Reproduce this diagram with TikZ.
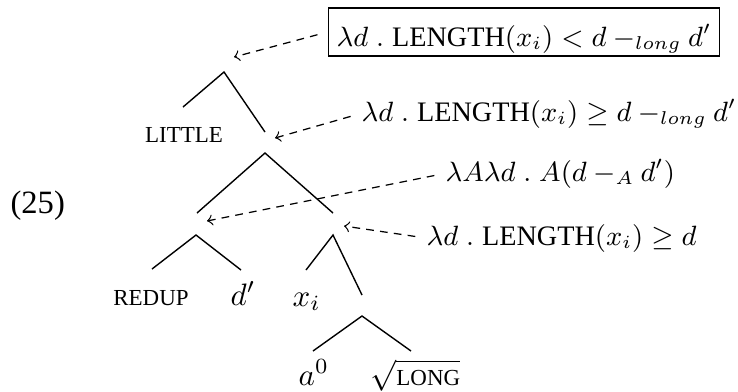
\documentclass[tikz,border=0pt]{standalone}
\usepackage{amsmath}
\usepackage{amssymb}
\usepackage{fontspec}
\setmainfont{Liberation Serif}
\usetikzlibrary{arrows}
\newcommand{\smcap}[1]{{\fontsize{7.4pt}{9pt}\selectfont #1}}
\newcommand{\lform}{\fontsize{9.1pt}{11pt}\selectfont}
\newcommand{\lenof}{\text{LENGTH}}

\begin{document}
\begin{tikzpicture}[x=0.3226pt,y=0.3226pt,yscale=-1,xscale=1,
  branch/.style={line width=0.45pt},
  pointer/.style={->,dash pattern={on 2.5pt off 2pt},line width=0.4pt,shorten <=3.5pt},
  term/.style={inner sep=0pt},
  gloss/.style={inner sep=0pt,font=\lform}]
\useasboundingbox (0,0) rectangle (738,391);

%Tree points
\coordinate (top) at (224,72);
\coordinate (topL) at (183,107);
\coordinate (topR) at (265,132);
\coordinate (mid) at (265,153);
\coordinate (midL) at (197,213);
\coordinate (midR) at (333,213);
\coordinate (red) at (196,235);
\coordinate (redL) at (152,269);
\coordinate (redR) at (241,270);
\coordinate (len) at (333,235);
\coordinate (lenL) at (306,270);
\coordinate (lenR) at (362,295);
\coordinate (lng) at (362,316);
\coordinate (lngL) at (313,351);
\coordinate (lngR) at (411,351);
%Arrow targets
\coordinate (t1) at (234,57);
\coordinate (t2) at (275,138);
\coordinate (t3) at (207,221);
\coordinate (t4) at (344,226);

%Straight Lines
\draw[branch] (topL) -- (top) -- (topR);
\draw[branch] (midL) -- (mid) -- (midR);
\draw[branch] (redL) -- (red) -- (redR);
\draw[branch] (lenL) -- (len) -- (lenR);
\draw[branch] (lngL) -- (lng) -- (lngR);

% Text Node
\node[term,anchor=base west,font=\fontsize{10.5pt}{12pt}\selectfont] (ex) at (10,213) {(25)};
% Text Node
\node[term,anchor=base] (little) at (184,142) {\smcap{LITTLE}};
% Text Node
\node[term,anchor=base] (redup) at (151,305) {\smcap{REDUP}};
% Text Node
\node[term,anchor=base west] (dp) at (230,305) {$d'$};
% Text Node
\node[term,anchor=base west] (xi) at (292,306) {$x_i$};
% Text Node
\node[term,anchor=base west] (azero) at (298,385) {$a^0$};
% Text Node
\node[term,anchor=base west] (root) at (370,385) {$\sqrt{\text{\smcap{LONG}}}$};

% Text Node
\node[gloss,draw,anchor=base,inner xsep=2.6pt,inner ysep=3pt,text height=9.3pt,text depth=0.2pt] (m1) at (524,46)
  {$\lambda d \mathrel{.} \lenof(x_i) < d -_{long} d'$};
% Text Node
\node[gloss,anchor=base east] (m2) at (737,121)
  {$\lambda d \mathrel{.} \lenof(x_i) \geq d -_{long} d'$};
% Text Node
\node[gloss,anchor=base west] (m3) at (445,181)
  {$\lambda A \lambda d \mathrel{.} A(d -_{A} d')$};
% Text Node
\node[gloss,anchor=base west] (m4) at (426,245)
  {$\lambda d \mathrel{.} \lenof(x_i) \geq d$};

%Dashed pointers
\draw[pointer] (m1.west) -- (t1);
\draw[pointer] (m2.west) -- (t2);
\draw[pointer] (m3.west) -- (t3);
\draw[pointer] (m4.west) -- (t4);

\end{tikzpicture}
\end{document}
